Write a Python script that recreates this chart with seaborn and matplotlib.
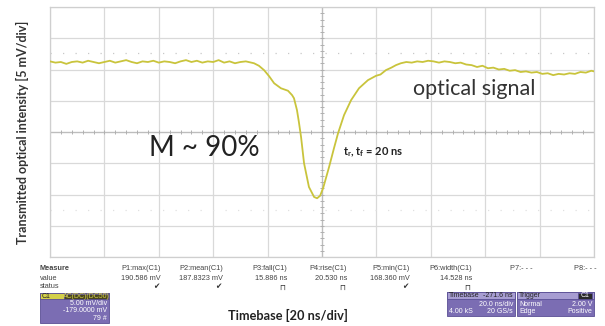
import numpy as np
import pandas as pd
import matplotlib
matplotlib.use("Agg")
import matplotlib.pyplot as plt
from matplotlib.patches import Rectangle
import seaborn as sns

# trace: time [ns] vs. voltage [mV] (center = 179 mV, 5 mV/div)
time_ns = [-100, -98, -96, -94, -92, -90, -88, -86, -84, -82,
           -80, -78, -76, -74, -72, -70, -68, -66, -64, -62,
           -60, -58, -56, -54, -52, -50, -48, -46, -44, -42,
           -40, -38, -36, -34, -32, -30, -28, -26,
           -25.0, -23.2, -21.3, -19.4, -17.6, -15.1, -12.5, -11.0, -10.3, -9.2,
           -8.5, -7.7, -6.6, -4.8, -2.9, -1.8, -0.7, 0.4, 2.6, 4.4,
           5.9, 8.1, 10.7, 13.6, 16.9, 19.9, 21.5, 23.5, 25.5, 27.2,
           29, 31, 33, 35, 37, 39, 41, 43, 45, 47,
           49, 51, 53, 55, 57, 59, 61, 63, 65, 67,
           69, 71, 73, 75, 77, 79, 81, 83, 85, 87,
           89, 91, 93, 95, 97, 99, 100]
voltage_mv = [190.3, 190.1, 190.2, 189.9, 190.2, 190.3, 190.1, 190.4, 190.2, 190.0,
              190.2, 190.4, 190.1, 190.3, 190.5, 190.2, 190.0, 190.3, 190.2, 190.4,
              190.1, 190.3, 190.2, 190.0, 190.3, 190.5, 190.2, 190.4, 190.1, 190.3,
              190.2, 190.5, 190.1, 190.3, 190.0, 190.2, 190.3, 190.1,
              190.0, 189.6, 188.9, 187.9, 186.8, 186.0, 185.6, 184.9, 184.4, 182.5,
              180.6, 178.2, 174.0, 170.2, 168.6, 168.4, 168.8, 170.0, 173.4, 176.4,
              178.8, 181.7, 184.1, 186.0, 187.3, 188.0, 188.2, 188.9, 189.3, 189.7,
              190.0, 190.2, 190.1, 190.3, 190.2, 190.4, 190.3, 190.1, 190.3, 190.2,
              190.0, 190.1, 189.8, 189.7, 189.4, 189.6, 189.2, 189.3, 189.0, 189.1,
              188.8, 188.9, 188.6, 188.7, 188.5, 188.6, 188.3, 188.4, 188.1, 188.3,
              188.2, 188.4, 188.3, 188.6, 188.5, 188.8, 188.7]

# measurement panel
meas_names = ["P1:max(C1)", "P2:mean(C1)", "P3:fall(C1)", "P4:rise(C1)",
              "P5:min(C1)", "P6:width(C1)", "P7:- - -", "P8:- - -"]
meas_values = ["190.586 mV", "187.8323 mV", "15.886 ns", "20.530 ns",
               "168.360 mV", "14.528 ns", "", ""]
meas_status = ["✔", "✔", "⊓", "⊓", "✔", "⊓", "", ""]

df = pd.DataFrame({"t": time_ns, "v": voltage_mv})

sns.set_style("white")
plt.rcParams["font.family"] = ["Lato", "DejaVu Sans"]
plt.rcParams["mathtext.fontset"] = "custom"
plt.rcParams["mathtext.bf"] = "Lato:bold"
plt.rcParams["mathtext.rm"] = "Lato"

W, H = 605, 326
fig = plt.figure(figsize=(W / 100, H / 100), dpi=100)
ax = fig.add_axes([50 / W, 1 - 257 / H, 544 / W, 250 / H])

grid_c = "#d9d9d9"
ax.set_xlim(-100, 100)
ax.set_ylim(159, 199)
for x in np.arange(-100, 101, 20):
    ax.axvline(x, color=grid_c, lw=0.9, zorder=0)
for y in np.arange(159, 200, 5):
    ax.axhline(y, color=grid_c, lw=0.9, zorder=0)
# center axes with minor ticks
ax.axvline(0, color="#bdbdbd", lw=0.9, zorder=0)
ax.axhline(179, color="#bdbdbd", lw=0.9, zorder=0)
ax.plot(np.arange(-100, 101, 4), np.full(51, 179), ls="none", marker="|",
        ms=3, color="#b0b0b0", mew=0.7, zorder=0)
ax.plot(np.zeros(41), np.arange(159, 200, 1), ls="none", marker="_",
        ms=3, color="#b0b0b0", mew=0.7, zorder=0)
# faint dotted cursor levels
ax.axhline(191.6, color="#c8c8c8", lw=0.9, ls=(0, (1, 9)), zorder=0)
ax.axhline(166.5, color="#e0e0e0", lw=0.9, ls=(0, (1, 9)), zorder=0)

sns.lineplot(data=df, x="t", y="v", ax=ax, color="#c9c43c", lw=1.3,
             estimator=None, sort=False, zorder=3)

for s in ax.spines.values():
    s.set_color("#cfcfcf")
    s.set_linewidth(0.9)
ax.set_xticks([])
ax.set_yticks([])
ax.set_xlabel("")
ax.set_ylabel("")

ax.text(33.5, 185.9, "optical signal", fontsize=15.5, color="#333333",
        ha="left", va="center")
ax.text(-63.6, 176.4, "M ~ 90%", fontsize=20, color="#222222",
        ha="left", va="center")
ax.text(7.7, 175.8, r"t$_\mathbf{r}$, t$_\mathbf{f}$ = 20 ns", fontsize=8,
        fontweight="bold", color="#222222", ha="left", va="center")

fig.text(22 / W, 1 - 132 / H, "Transmitted optical intensity [5 mV/div]",
         rotation=90, fontsize=9, fontweight="bold", color="#333333",
         ha="center", va="center")
fig.text(288 / W, 1 - 315 / H, "Timebase [20 ns/div]", fontsize=9.2,
         fontweight="bold", color="#222222", ha="center", va="center")

# measurement table
small = dict(fontsize=5.3, color="#444444", family=["Liberation Sans", "DejaVu Sans"])
fig.text(40 / W, 1 - 268 / H, "Measure", fontweight="bold", ha="left", va="center", **small)
fig.text(40 / W, 1 - 278 / H, "value", ha="left", va="center", **small)
fig.text(40 / W, 1 - 287 / H, "status", ha="left", va="center", **small)
col_right = [161, 223, 287, 347, 410, 472, 533, 597]
for xr, nm, val, st in zip(col_right, meas_names, meas_values, meas_status):
    fig.text(xr / W, 1 - 268 / H, nm, ha="right", va="center", **small)
    if val:
        fig.text(xr / W, 1 - 278 / H, val, ha="right", va="center", **small)
        fig.text((xr - 2) / W, 1 - 287 / H, st, ha="right", va="center",
                 fontsize=5.5, color="#333333", family="DejaVu Sans")


def box(x0, y0, x1, y1, fc):
    fig.add_artist(Rectangle((x0 / W, 1 - y1 / H), (x1 - x0) / W, (y1 - y0) / H,
                             transform=fig.transFigure, fc=fc, ec="#5a4f95", lw=0.6))


def ptxt(x, y, s, ha="left", c="white"):
    fig.text(x / W, 1 - y / H, s, ha=ha, va="center", fontsize=5.0, color=c,
             family=["Liberation Sans", "DejaVu Sans"])


purple = "#7b6db3"
light = "#a79dd2"
# C1 channel box
box(40, 293, 109, 323, purple)
box(40, 293, 109, 299, "#d4d04a")
box(64, 294, 108, 298.5, "#4a4620")
ptxt(42, 296, "C1", c="#222222")
ptxt(86, 296, "AC(DC)(DC50)", ha="center", c="#d4d04a")
ptxt(107, 303.5, "5.00 mV/div", ha="right")
ptxt(107, 311, "-179.0000 mV", ha="right")
ptxt(107, 318.5, "79 #", ha="right")

# timebase box
box(447, 292, 515, 316, purple)
box(447, 292, 515, 299, light)
ptxt(449, 295.5, "Timebase", c="#222222")
ptxt(513, 295.5, "-271.6 ns", ha="right", c="#222222")
ptxt(513, 304, "20.0 ns/div", ha="right")
ptxt(449, 311.5, "4.00 kS")
ptxt(513, 311.5, "20 GS/s", ha="right")

# trigger box
box(517, 292, 594, 316, purple)
box(517, 292, 594, 299, light)
box(578, 293, 592, 298.5, "#2a2a2a")
ptxt(519, 295.5, "Trigger", c="#222222")
ptxt(585, 295.5, "C1", ha="center")
ptxt(519, 304, "Normal")
ptxt(592, 304, "2.00 V", ha="right")
ptxt(519, 311.5, "Edge")
ptxt(592, 311.5, "Positive", ha="right")

fig.savefig("out.png", dpi=100)
